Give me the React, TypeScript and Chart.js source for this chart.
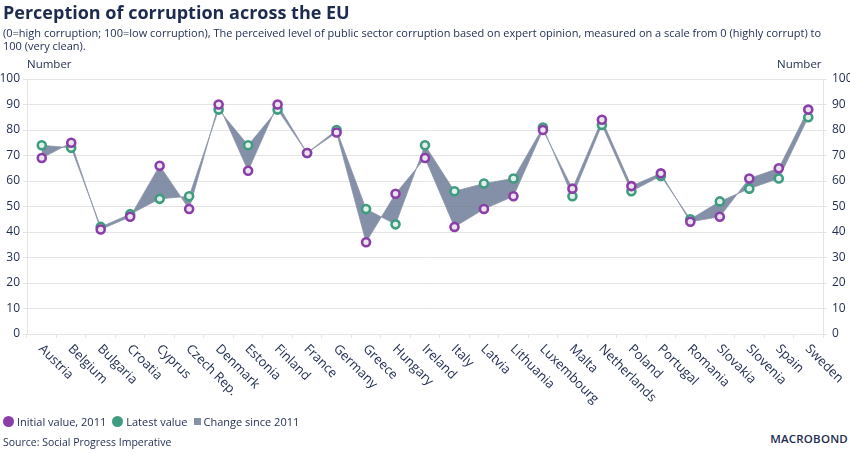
import React, { useEffect, useRef } from "react";
import { Chart, registerables } from "chart.js";

Chart.register(...registerables);

const categories = [
  "Austria", "Belgium", "Bulgaria", "Croatia", "Cyprus", "Czech Rep.", "Denmark", "Estonia", "Finland",
  "France", "Germany", "Greece", "Hungary", "Ireland", "Italy", "Latvia", "Lithuania", "Luxembourg",
  "Malta", "Netherlands", "Poland", "Portugal", "Romania", "Slovakia", "Slovenia", "Spain", "Sweden",
];
const initialValues = [69, 75, 41, 46, 66, 49, 90, 64, 90, 71, 79, 36, 55, 69, 42, 49, 54, 80, 57, 84, 58, 63, 44, 46, 61, 65, 88];
const latestValues = [74, 73, 42, 47, 53, 54, 88, 74, 88, 71, 80, 49, 43, 74, 56, 59, 61, 81, 54, 82, 56, 62, 45, 52, 57, 61, 85];
const yTicks = [0, 10, 20, 30, 40, 50, 60, 70, 80, 90, 100];

const NAVY = "#1d2b4f";
const PURPLE = "#8a3ea8";
const GREEN = "#3f9c80";
const FILLC = "rgba(110,125,152,0.85)";
const LINEC = "rgba(140,150,168,0.8)";
const GRID = "#e4e4e4";
const FONT = "'Open Sans', sans-serif";

const xLabelPlugin = {
  id: "xLabels",
  afterDraw(chart: any) {
    const ctx = chart.ctx;
    const xs = chart.scales.x;
    ctx.save();
    ctx.fillStyle = NAVY;
    ctx.font = `13px ${FONT}`;
    ctx.textAlign = "left";
    ctx.textBaseline = "middle";
    categories.forEach((c, i) => {
      const x = xs.getPixelForValue(i);
      ctx.save();
      ctx.translate(x - 1, xs.top + 13);
      ctx.rotate(Math.PI / 4);
      ctx.fillText(c, 0, 0);
      ctx.restore();
    });
    ctx.restore();
  },
};

export default function App() {
  const ref = useRef<HTMLCanvasElement>(null);
  useEffect(() => {
    document.body.style.margin = "0";
    const fixW = (s: any) => { s.width = 27; };
    const chart = new Chart(ref.current!, {
      type: "line",
      data: {
        labels: categories,
        datasets: [
          {
            label: "Initial value, 2011",
            data: initialValues,
            showLine: false,
            pointRadius: 4,
            pointBorderWidth: 2.6,
            pointBorderColor: PURPLE,
            pointBackgroundColor: "#ebe3f0",
            backgroundColor: PURPLE,
            borderColor: PURPLE,
            order: 0,
          },
          {
            label: "Latest value",
            data: latestValues,
            showLine: false,
            pointRadius: 4,
            pointBorderWidth: 2.6,
            pointBorderColor: GREEN,
            pointBackgroundColor: "#e3efea",
            backgroundColor: GREEN,
            borderColor: GREEN,
            order: 0,
          },
          {
            label: "Change since 2011",
            data: initialValues,
            pointRadius: 0,
            borderWidth: 1,
            borderColor: LINEC,
            backgroundColor: FILLC,
            fill: false,
            order: 1,
          },
          {
            label: "_hidden",
            data: latestValues,
            pointRadius: 0,
            borderWidth: 1,
            borderColor: LINEC,
            backgroundColor: FILLC,
            fill: "-1",
            order: 1,
          },
        ],
      },
      options: {
        animation: false,
        responsive: false,
        layout: { padding: { top: 79, left: 0, right: 0, bottom: 0 } },
        plugins: {
          legend: { display: false },
          tooltip: { enabled: false },
          title: { display: false },
        },
        scales: {
          x: {
            offset: true,
            grid: { display: true, offset: true, drawOnChartArea: false, drawTicks: true, tickLength: 4, color: GRID },
            border: { display: true, color: GRID },
            ticks: { display: false },
            afterFit: (s: any) => { s.height = 415 - 334; },
          },
          y: {
            position: "left",
            min: 0,
            max: 100,
            afterBuildTicks: (s: any) => { s.ticks = yTicks.map((v) => ({ value: v })); },
            grid: { color: GRID, tickLength: 4 },
            border: { display: true, color: GRID },
            ticks: { color: NAVY, font: { family: FONT, size: 12 }, padding: 3 },
            afterFit: fixW,
          },
          y2: {
            position: "right",
            min: 0,
            max: 100,
            afterBuildTicks: (s: any) => { s.ticks = yTicks.map((v) => ({ value: v })); },
            grid: { color: GRID, tickLength: 4, drawOnChartArea: false },
            border: { display: true, color: GRID },
            ticks: { color: NAVY, font: { family: FONT, size: 12 }, padding: 5 },
            afterFit: fixW,
          },
        },
      } as any,
      plugins: [xLabelPlugin],
    });
    return () => chart.destroy();
  }, []);

  const txt: React.CSSProperties = { position: "absolute", color: NAVY, fontFamily: FONT, whiteSpace: "nowrap" };
  const dot = (c: string): React.CSSProperties => ({
    display: "inline-block", width: 11, height: 11, borderRadius: "50%", background: c, marginRight: 3,
  });

  return (
    <div style={{ position: "relative", width: 850, height: 453, overflow: "hidden", background: "#fff" }}>
      <canvas ref={ref} width={850} height={415} style={{ position: "absolute", left: 0, top: 0, width: 850, height: 415 }} />
      <div style={{ ...txt, left: 3, top: 0, fontSize: 18, fontWeight: 700 }}>Perception of corruption across the EU</div>
      <div style={{ ...txt, left: 3, top: 26, fontSize: 11, lineHeight: "13px", whiteSpace: "normal", width: 832 }}>
        (0=high corruption; 100=low corruption), The perceived level of public sector corruption based on expert opinion, measured on a scale from 0 (highly corrupt) to 100 (very clean).
      </div>
      <div style={{ ...txt, left: 27, top: 56, fontSize: 11.5 }}>Number</div>
      <div style={{ ...txt, left: 777, top: 56, fontSize: 11.5 }}>Number</div>
      <div style={{ ...txt, left: 3, top: 414, fontSize: 11, display: "flex", alignItems: "center" }}>
        <span style={dot(PURPLE)} />
        <span style={{ marginRight: 6 }}>Initial value, 2011</span>
        <span style={dot(GREEN)} />
        <span style={{ marginRight: 6 }}>Latest value</span>
        <span style={{ display: "inline-block", width: 7, height: 7, background: "#8591a6", marginRight: 3 }} />
        <span>Change since 2011</span>
      </div>
      <div style={{ ...txt, left: 3, top: 435, fontSize: 10.5 }}>Source: Social Progress Imperative</div>
      <div style={{ ...txt, right: 2, top: 431, fontSize: 11.5, fontWeight: 600, letterSpacing: 0.2 }}>MACROBOND</div>
    </div>
  );
}
